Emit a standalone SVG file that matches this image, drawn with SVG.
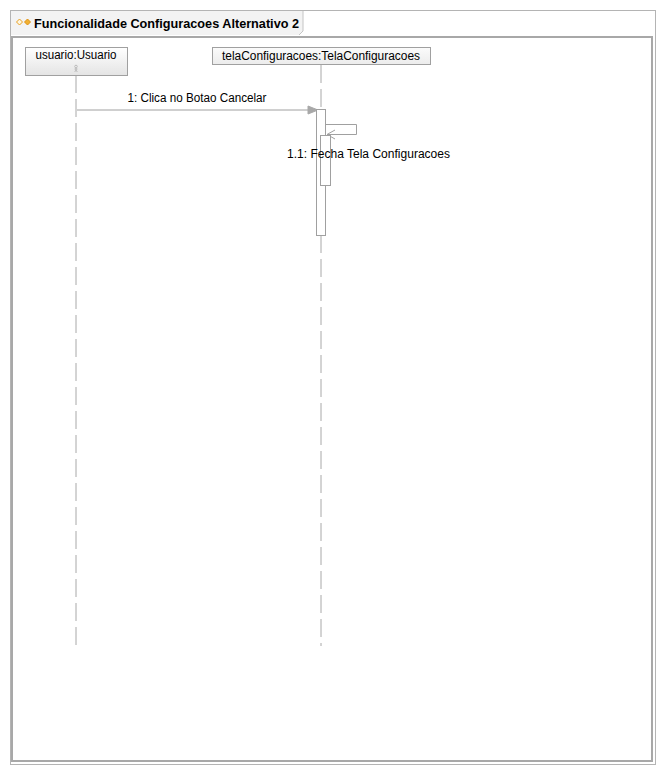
<svg xmlns="http://www.w3.org/2000/svg" width="665" height="774" viewBox="0 0 665 774">
<style>
  text { font-family: "Liberation Sans", Arial, sans-serif; font-size: 12px; fill: #000; }
  .title { font-weight: bold; font-size: 12.5px; }
  .box { stroke: #a0a0a0; stroke-width: 1; }
  .life { stroke: #a8a8a8; stroke-width: 1; stroke-dasharray: 18 6; fill: none; }
  .msg { stroke: #a0a0a0; stroke-width: 1; fill: none; }
  .act { fill: #ffffff; stroke: #a0a0a0; stroke-width: 1; }
</style>
<defs>
  <linearGradient id="g" x1="0" y1="0" x2="0" y2="1">
    <stop offset="0" stop-color="#ffffff"/>
    <stop offset="1" stop-color="#e4e4e4"/>
  </linearGradient>
  <linearGradient id="g2" x1="0" y1="0" x2="0" y2="1">
    <stop offset="0" stop-color="#fbfbfb"/>
    <stop offset="1" stop-color="#ececec"/>
  </linearGradient>
</defs>
<rect x="0" y="0" width="665" height="774" fill="#ffffff"/>

<g id="frame">
  <rect x="10.5" y="10.5" width="645" height="754" fill="#ffffff" stroke="#b4b4b4" stroke-width="1"/>
  <path d="M11,11 H303 V31 L299,35 H11 Z" fill="#f3f3f3"/>
  <path d="M303,11 V31 L299,35" fill="none" stroke="#c4c4c4" stroke-width="1"/>
  <rect x="12" y="37" width="640" height="724" fill="none" stroke="#a8a8a8" stroke-width="2"/>
  <path d="M16.5,22 L19.5,19 L22.5,22 L19.5,25 Z" fill="#fff6e0" stroke="#e8a020" stroke-width="1"/>
  <path d="M24.5,22 L27.5,19 L30.5,22 L27.5,25 Z" fill="#f0b030" stroke="#e09010" stroke-width="1"/>
  <text class="title" x="34" y="28" textLength="265" lengthAdjust="spacingAndGlyphs">Funcionalidade Configuracoes Alternativo 2</text>
</g>

<g id="connectors">
  <line class="life" x1="76" y1="75" x2="76" y2="646"/>
  <line class="life" x1="321" y1="65" x2="321" y2="109"/>
  <line class="life" x1="321" y1="235" x2="321" y2="646"/>
  <line class="msg" x1="77" y1="110" x2="310" y2="110"/>
  <polygon points="308,106 318,110 308,114" fill="#a8a8a8" stroke="#a8a8a8" stroke-width="1"/>
  <polyline class="msg" points="326,124.5 356.5,124.5 356.5,134.5 327,134.5"/>
  <polyline class="msg" points="335,130 327,134.5 335,139"/>
</g>

<g id="usuario">
  <rect class="box" x="25.5" y="47.5" width="102" height="28" fill="url(#g)"/>
  <text x="76" y="59" text-anchor="middle" textLength="81" lengthAdjust="spacingAndGlyphs">usuario:Usuario</text>
  <g stroke="#b0b0b0" stroke-width="0.8" fill="none">
    <circle cx="76" cy="66.5" r="1.3"/>
    <line x1="76" y1="68" x2="76" y2="70"/>
    <line x1="74.5" y1="69" x2="77.5" y2="69"/>
    <line x1="76" y1="70" x2="74.7" y2="72"/>
    <line x1="76" y1="70" x2="77.3" y2="72"/>
  </g>
</g>

<g id="telaConfiguracoes">
  <rect class="box" x="212.5" y="47.5" width="218" height="17" fill="url(#g2)"/>
  <text x="321" y="60" text-anchor="middle" textLength="198" lengthAdjust="spacingAndGlyphs">telaConfiguracoes:TelaConfiguracoes</text>
  <rect class="act" x="316.5" y="109.5" width="9" height="126"/>
  <rect class="act" x="320.5" y="135.5" width="10" height="50"/>
</g>

<g id="labels">
  <text x="197" y="102" text-anchor="middle" textLength="139" lengthAdjust="spacingAndGlyphs">1: Clica no Botao Cancelar</text>
  <text x="287" y="158" textLength="163" lengthAdjust="spacingAndGlyphs">1.1: Fecha Tela Configuracoes</text>
</g>
</svg>
